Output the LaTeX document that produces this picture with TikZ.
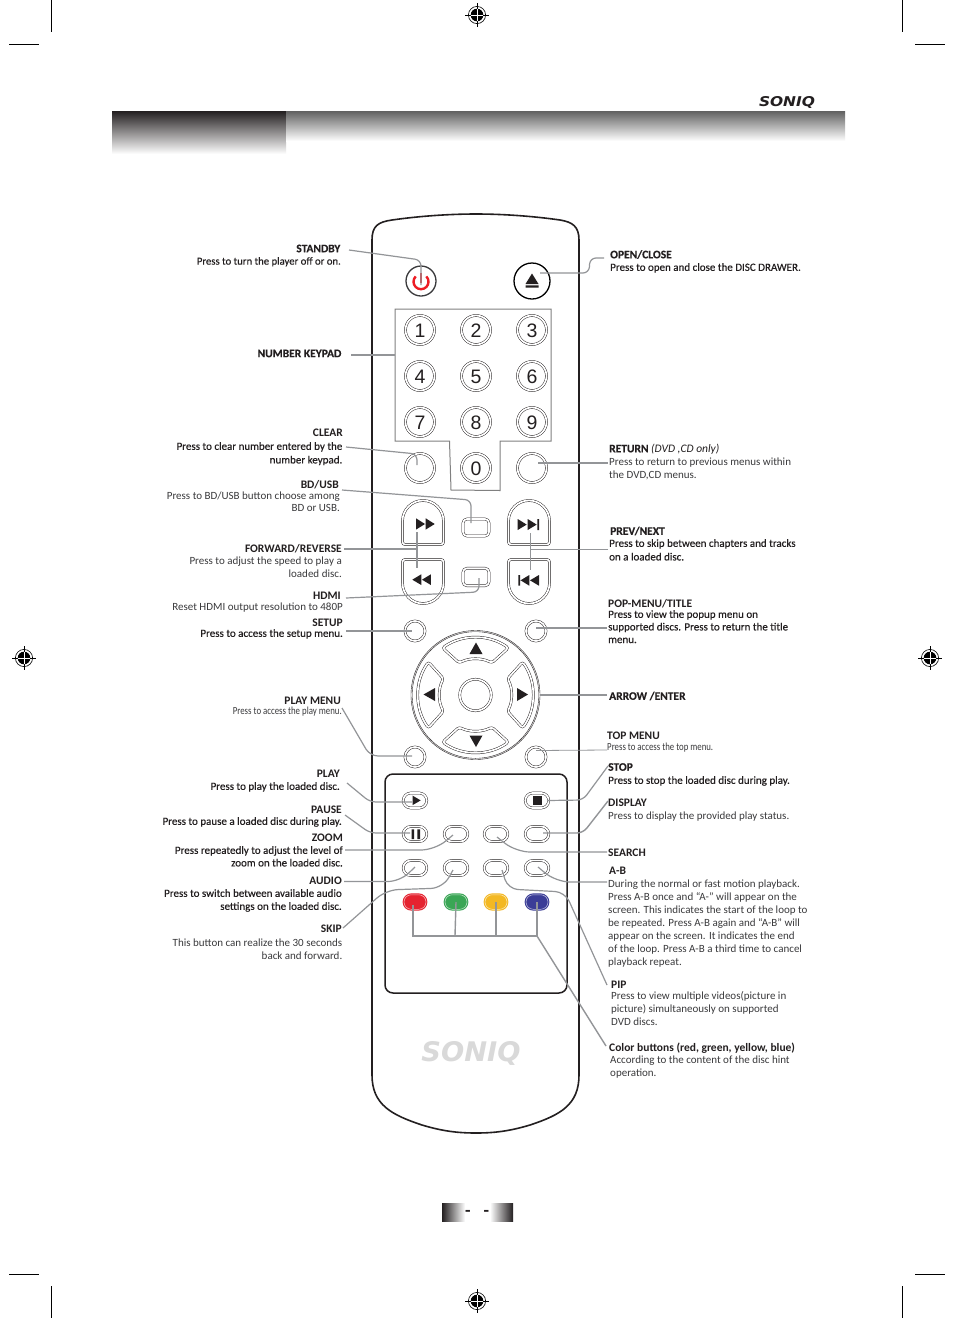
\documentclass[tikz,border=0pt]{standalone}
\usepackage{fontspec}
\setmainfont{Carlito}
\newfontfamily\digitfont{Liberation Sans}
\newfontfamily\logofont{DejaVu Sans}
\newfontfamily\fakebold[FakeBold=0.35]{Carlito}
\newfontfamily\headx[BoldFeatures={FakeBold=0.35}]{Carlito}
\usetikzlibrary{shapes.misc,shapes.geometric}
\definecolor{conn}{HTML}{939598}
\definecolor{ink}{HTML}{231F20}
\definecolor{soft}{HTML}{3A3A3C}
\definecolor{btnred}{HTML}{E52330}
\definecolor{btngreen}{HTML}{3AA655}
\definecolor{btnyellow}{HTML}{F3B823}
\definecolor{btnblue}{HTML}{3B3D97}
\definecolor{pwred}{HTML}{ED1C24}
\tikzset{
 wire/.style={draw=conn,line width=1.2pt,rounded corners=6pt},
 dbl/.style={draw=ink,line width=.45pt,double=white,double distance=1.7pt},
 numkey/.style={circle,dbl,minimum size=29pt,inner sep=0pt,font=\digitfont\fontsize{19.5}{20}\selectfont,text=ink},
 roundkey/.style={circle,dbl,minimum size=#1,inner sep=0pt},
 pill/.style={rounded rectangle,dbl,minimum width=23.5pt,minimum height=15pt,inner sep=0pt},
 colorpill/.style={rounded rectangle,draw=#1,fill=#1,line width=1.1pt,double=white!70!#1,double distance=.5pt,minimum width=22pt,minimum height=14.5pt,inner sep=0pt},
 lt/.style={inner sep=0pt,anchor=north east,align=right,font=\fontsize{11}{12.9}\selectfont,text=soft},
 rt/.style={inner sep=0pt,anchor=north west,align=left,font=\fontsize{11}{12.9}\selectfont,text=soft},
 ltb/.style={lt,font=\fakebold\fontsize{11}{13.6}\selectfont,text=ink},
 rtb/.style={rt,font=\fakebold\fontsize{11}{13.6}\selectfont,text=ink},
 lh/.style={inner sep=0pt,anchor=east,font=\bfseries\fontsize{11.5}{12}\selectfont,text=ink},
 rh/.style={inner sep=0pt,anchor=west,font=\bfseries\fontsize{11.5}{12}\selectfont,text=ink},
 lhx/.style={lh,font=\headx\bfseries\fontsize{11.5}{12}\selectfont},
 rhx/.style={rh,font=\headx\bfseries\fontsize{11.5}{12}\selectfont},
 crop/.style={draw=black,line width=.7pt},
 pagedash/.style={inner sep=0pt,text=ink,font=\bfseries\fontsize{18}{18}\selectfont},
}
\newcommand{\regmark}[2]{%
 \begin{scope}[shift={(#1,#2)}]
  \fill[black] (0,0) circle (6.3);
  \draw[black,line width=.6pt] (0,0) circle (8.6);
  \draw[black,line width=.7pt] (-12,0) -- (12,0) (0,-12) -- (0,12);
  \draw[white,line width=.8pt] (-6.3,0) -- (6.3,0) (0,-6.3) -- (0,6.3);
 \end{scope}}
\newcommand{\upkey}[1]{%
 \draw[dbl] (#1,542) -- (#1,521) arc[start angle=180,end angle=360,radius=20.5] -- ++(0,21) arc[start angle=0,end angle=90,radius=2.5] -- ++(-36,0) arc[start angle=90,end angle=180,radius=2.5] -- cycle;}
\newcommand{\downkey}[1]{%
 \draw[dbl] (#1,562) -- (#1,583) arc[start angle=180,end angle=0,radius=20.5] -- ++(0,-21) arc[start angle=0,end angle=-90,radius=2.5] -- ++(-36,0) arc[start angle=-90,end angle=-180,radius=2.5] -- cycle;}
\begin{document}
\begin{tikzpicture}[x=1pt,y=-1pt]
\useasboundingbox (0,0) rectangle (954,1318);
\fill[white] (0,0) rectangle (954,1318);
% crop marks
\draw[crop] (51,0)--(51,32) (902,0)--(902,32) (9,44)--(39,44) (915,44)--(945,44);
\draw[crop] (51,1286)--(51,1318) (902,1286)--(902,1318) (9,1274)--(39,1274) (915,1274)--(945,1274);
\regmark{477}{15}\regmark{477}{1301}\regmark{24}{658}\regmark{930}{658}
% header
\shade[top color=ink,bottom color=white] (112,111) rectangle (286,154);
\shade[top color=black!62,bottom color=white] (286,111) rectangle (845,141);
\node[inner sep=0pt,text=ink] (logoTop) at (787,102) {\resizebox{56pt}{10pt}{\logofont\bfseries\itshape SONIQ}};
% remote body
\draw[ink,line width=1.6pt,fill=white] (372,1075) -- (372,240)
  .. controls (372,226) and (378,222) .. (392,220)
  .. controls (420,216) and (450,214) .. (476,214)
  .. controls (502,214) and (532,216) .. (560,220)
  .. controls (572,222) and (579,226) .. (579,240)
  -- (579,1075)
  .. controls (579,1105) and (560,1115) .. (530,1125)
  .. controls (510,1131) and (495,1133) .. (476,1133)
  .. controls (457,1133) and (442,1131) .. (422,1125)
  .. controls (392,1115) and (372,1105) .. (372,1075);
% power and eject
\node[circle,draw=soft,line width=1.3pt,minimum size=30pt,inner sep=0pt] (pwr) at (421,281) {};
\draw[pwred,line width=2.4pt] (415.7,276.4) arc[start angle=225,end angle=-45,radius=7.5];
\draw[pwred,line width=2.4pt] (421,273)--(421,283);
\node[circle,draw=black,line width=1.3pt,minimum size=36pt,inner sep=0pt] (eject) at (532,281) {};
\fill[ink] (532,273.5)--(538.5,284)--(525.5,284)--cycle (525.5,285.3) rectangle (538.5,287.6);
% keypad outline
\draw[draw=black!50,line width=1pt] (395,309)--(551,309)--(551,441)--(500,441)--(500,490.5)--(451,490)--(449.5,441)--(395,441)--cycle;
\coordinate (padW) at (395,355);
% digits
\begin{scope}[every node/.append style={text depth=0pt}]
\node[numkey] (k1) at (420,330) {\raisebox{-1pt}{1}};
\node[numkey] (k2) at (476,330) {\raisebox{-1pt}{2}};
\node[numkey] (k3) at (532,330) {\raisebox{-1pt}{3}};
\node[numkey] (k4) at (420,376) {\raisebox{-1pt}{4}};
\node[numkey] (k5) at (476,376) {\raisebox{-1pt}{5}};
\node[numkey] (k6) at (532,376) {\raisebox{-1pt}{6}};
\node[numkey] (k7) at (420,422) {\raisebox{-1pt}{7}};
\node[numkey] (k8) at (476,422) {\raisebox{-1pt}{8}};
\node[numkey] (k9) at (532,422) {\raisebox{-1pt}{9}};
\node[numkey] (k0) at (476,468) {\raisebox{-1pt}{0}};
\end{scope}
\node[numkey] (clearK) at (420,468) {};
\node[numkey] (returnK) at (532,468) {};
% transport keys
\upkey{402.5}\upkey{508.5}\downkey{402.5}\downkey{508.5}
\fill[ink] (416,518.3)--(425,524)--(416,529.6)--cycle (425.7,518.3)--(434.7,524)--(425.7,529.6)--cycle;
\fill[ink] (421.3,574.3)--(412.3,579.7)--(421.3,585)--cycle (430.9,574.3)--(422,579.7)--(430.9,585)--cycle;
\fill[ink] (517.7,519)--(526.7,524.6)--(517.7,530)--cycle (527.7,519)--(536.7,524.6)--(527.7,530)--cycle (537.3,519) rectangle (539.2,530);
\fill[ink] (518.3,575) rectangle (520.1,585.7) (529.3,575)--(520.6,580.3)--(529.3,585.7)--cycle (539,575)--(530,580.3)--(539,585.7)--cycle;
\coordinate (fwdK) at (417,532);
\coordinate (revK) at (417,568);
\coordinate (nextK) at (530,533);
\coordinate (prevK) at (530,570);
% small rect keys
\node[rectangle,rounded corners=4pt,dbl,minimum width=26pt,minimum height=17pt,inner sep=0pt] (usbK) at (476,527.5) {};
\node[rectangle,rounded corners=4pt,dbl,minimum width=26pt,minimum height=17.5pt,inner sep=0pt] (hdmiK) at (476,577) {};
% small circles
\node[roundkey=20pt] (setupK) at (415,631) {};
\node[roundkey=20pt] (popK) at (536,631) {};
\node[roundkey=20pt] (playmK) at (415,757) {};
\node[roundkey=20pt] (topK) at (536,757) {};
% d-pad
\begin{scope}[shift={(475.5,695)}]
 \draw[ink,line width=.4pt] (0,0) circle (64.5) (0,0) circle (63.3);
 \foreach \a in {-90,0,90,180}{
  \draw[dbl,rotate=\a,rounded corners=2.5pt] (35:57.5) arc[start angle=35,end angle=-35,radius=57.5] -- (-27:36) arc[start angle=-27,end angle=27,radius=36] -- cycle;
 }
\end{scope}
\node[circle,dbl,minimum size=31.5pt,inner sep=0pt] (enterK) at (475.5,695) {};
\fill[ink] (476,642.5)--(482.5,654)--(469.5,654)--cycle;
\fill[ink] (476,747)--(482.5,735.5)--(469.5,735.5)--cycle;
\fill[ink] (423.5,694.5)--(435,688)--(435,701)--cycle;
\fill[ink] (528,694.5)--(517,688)--(517,701)--cycle;
% lower panel
\draw[ink,line width=1.5pt,rounded corners=8pt] (385,774) rectangle (567,993);
\node[pill] (playK) at (415,800.5) {};
\node[pill] (stopK) at (537,800.5) {};
\node[pill] (pauseK) at (415,834) {};
\node[pill] (zoomK) at (456,834) {};
\node[pill] (searchK) at (496,834) {};
\node[pill] (dispK) at (537,834) {};
\node[pill] (audioK) at (415,868) {};
\node[pill] (skipK) at (456,868) {};
\node[pill] (pipK) at (496,868) {};
\node[pill] (abK) at (537,868) {};
\node[colorpill=btnred] (redK) at (415,902) {};
\node[colorpill=btngreen] (greenK) at (456,902) {};
\node[colorpill=btnyellow] (yellowK) at (496,902) {};
\node[colorpill=btnblue] (blueK) at (537,902) {};
\fill[ink] (412.7,795.7)--(420.7,800.4)--(412.7,805)--cycle;
\fill[ink] (532.7,795.7) rectangle (542.3,805);
\fill[ink] (411.7,829.3) rectangle (414,839) (417.3,829.3) rectangle (420,839);
\node[inner sep=0pt,text=black!15] (logoBody) at (471,1053) {\resizebox{99pt}{20pt}{\logofont\bfseries\itshape SONIQ}};
% footer
\shade[left color=ink,right color=white] (442,1203) rectangle (465,1221);
\shade[left color=white,right color=ink] (490,1203) rectangle (513,1221);
\node[pagedash] (pgA) at (468,1213) {-};
\node[pagedash] (pgB) at (486.5,1213) {-};
% left labels
\node[lhx] (tStandby) at (340.5,248.5) {STANDBY};
\node[ltb,font=\fakebold\fontsize{10.7}{13.6}\selectfont] (bStandby) at (341,257) {Press to turn the player off or on.};
\node[lhx] (tPad) at (341.5,353.5) {NUMBER KEYPAD};
\node[lh] (tClear) at (343,433) {CLEAR};
\node[ltb] (bClear) at (342.5,442) {Press to clear number entered by the\\number keypad.};
\node[lh] (tUsb) at (339,485) {BD/USB};
\node[lt,font=\fontsize{11}{12}\selectfont] (bUsb) at (340,492) {Press to BD/USB button choose among\\BD or USB.};
\node[lh] (tFwd) at (342,549) {FORWARD/REVERSE};
\node[lt] (bFwd) at (342,557) {Press to adjust the speed to play a\\loaded disc.};
\node[lh] (tHdmi) at (341,595.5) {HDMI};
\node[lt] (bHdmi) at (343,603) {Reset HDMI output resolution to 480P};
\node[lh] (tSetup) at (343,622.5) {SETUP};
\node[ltb] (bSetup) at (343,629) {Press to access the setup menu.};
\node[lh] (tPlaym) at (341,701) {PLAY MENU};
\node[lt] (bPlaym) at (342,707) {\resizebox{109pt}{\height}{\fontsize{10.8}{12}\selectfont Press to access the play menu.}};
\node[lh] (tPlay) at (340,773.5) {PLAY};
\node[ltb] (bPlay) at (340,782) {Press to play the loaded disc.};
\node[lh] (tPause) at (342,810) {PAUSE};
\node[ltb] (bPause) at (342,817) {Press to pause a loaded disc during play.};
\node[lh] (tZoom) at (343,838) {ZOOM};
\node[ltb,font=\fakebold\fontsize{11}{12.6}\selectfont] (bZoom) at (343,846) {Press repeatedly to adjust the level of\\zoom on the loaded disc.};
\node[lh] (tAudio) at (342,881) {AUDIO};
\node[ltb,font=\fakebold\fontsize{11}{13}\selectfont] (bAudio) at (342,889) {Press to switch between available audio\\settings on the loaded disc.};
\node[lh] (tSkip) at (342,928.5) {SKIP};
\node[lt] (bSkip) at (342.5,939) {This button can realize the 30 seconds\\back and forward.};
% right labels
\node[rhx] (tOpen) at (610,254.5) {OPEN/CLOSE};
\node[rtb] (bOpen) at (610,263) {Press to open and close the DISC DRAWER.};
\node[rhx] (tRet) at (609,449) {RETURN {\fontspec{Carlito}\mdseries\itshape (DVD ,CD only)}};
\node[rt,font=\fontsize{11}{12.2}\selectfont] (bRet) at (609,458) {Press to return to previous menus within\\the DVD,CD menus.};
\node[rhx] (tPrev) at (610,531) {PREV/NEXT};
\node[rtb] (bPrev) at (609,539) {Press to skip between chapters and tracks\\on a loaded disc.};
\node[rh] (tPop) at (608,604) {POP-MENU/TITLE};
\node[rtb,font=\fakebold\fontsize{11}{12.6}\selectfont] (bPop) at (608,610) {Press to view the popup menu on\\supported discs. Press to return the title\\menu.};
\node[rhx] (tArrow) at (609,696) {ARROW /ENTER};
\node[rh] (tTop) at (607,736) {TOP MENU};
\node[rt] (bTop) at (607,742.5) {\resizebox{106pt}{\height}{\fontsize{10.8}{12}\selectfont Press to access the top menu.}};
\node[rhx] (tStop) at (608,767) {STOP};
\node[rtb] (bStop) at (608,776) {Press to stop the loaded disc during play.};
\node[rh] (tDisp) at (608,803) {DISPLAY};
\node[rt] (bDisp) at (608,812) {Press to display the provided play status.};
\node[rh] (tSearch) at (608,853) {SEARCH};
\node[rh] (tAb) at (609,871) {A-B};
\node[rt] (bAb) at (608,880) {During the normal or fast motion playback.\\Press A-B once and “A-” will appear on the\\screen. This indicates the start of the loop to\\be repeated. Press A-B again and “A-B” will\\appear on the screen. It indicates the end\\of the loop. Press A-B a third time to cancel\\playback repeat.};
\node[rh] (tPip) at (611,985) {PIP};
\node[rt] (bPip) at (611,991) {Press to view multiple videos(picture in\\picture) simultaneously on supported\\DVD discs.};
\node[rh] (tColor) at (609,1048) {Color buttons (red, green, yellow, blue)};
\node[rt] (bColor) at (610,1056) {According to the content of the disc hint\\operation.};
% connector ends beside labels
\coordinate (eStandby) at (349,250);
\coordinate (ePad) at (351,355);
\coordinate (eClear) at (346,447);
\coordinate (eUsb) at (342,490);
\coordinate (eFwd) at (344,549);
\coordinate (eHdmi) at (346,598);
\coordinate (eSetup) at (346,631);
\coordinate (ePlaym) at (342,708);
\coordinate (ePlay) at (347,783);
\coordinate (ePause) at (345,815);
\coordinate (eZoom) at (345,850);
\coordinate (eAudio) at (344,881.5);
\coordinate (eSkip) at (343,928);
\coordinate (eOpen) at (604,258);
\coordinate (eRet) at (608,463);
\coordinate (ePrev) at (608,549);
\coordinate (ePop) at (607,628);
\coordinate (eArrow) at (607,695);
\coordinate (eTop) at (607,750);
\coordinate (eStop) at (608,766);
\coordinate (eDisp) at (608,801);
\coordinate (eSearch) at (607,852);
\coordinate (eAb) at (607,882);
\coordinate (ePip) at (607,985);
\coordinate (eColor) at (606,1046);
\coordinate (busJ) at (537,936);
% connectors
\draw[wire] (eStandby) -- (421,260) -- ([yshift=-4pt]pwr.center);
\draw[wire] (eOpen) -- (590,258) -- (589,273) -- ([xshift=8pt,yshift=8pt]eject.center);
\draw[wire] (ePad) -- (padW);
\draw[wire] (eClear) -- (417,454) -- (417,465);
\draw[wire] (eUsb) -- (471,500) -- (471,523);
\draw[wire,line width=1.4pt] (eFwd) -- (417,549);
\draw[wire,line width=1.4pt] (fwdK) -- (revK);
\draw[wire] (eHdmi) -- (479,592) -- (479,578);
\draw[wire] (eSetup) -- (412,631);
\draw[wire] (returnK.center) ++(6,-5) -- (eRet);
\draw[wire,line width=.8pt] (ePrev) -- (530,549);
\draw[wire,line width=.8pt] (nextK) -- (prevK);
\draw[wire] (ePop) -- (536,628);
\draw[wire] (eArrow) -- (540,695);
\draw[wire,rounded corners=8pt] (ePlaym) -- (370,756) -- (412,756);
\draw[wire,line width=.8pt] (eTop) -- (536,750.5);
\draw[wire] (ePlay) -- (370,802) -- (412,802);
\draw[wire] (ePause) -- (370,833) -- (410,833);
\draw[wire,rounded corners=14pt] (eZoom) -- (435,850) -- (453,835);
\draw[wire,rounded corners=12pt] (eAudio) -- (400,881.5) -- (415,867);
\draw[wire,rounded corners=12pt] (eSkip) -- (386,890) -- (443,888) -- (453,870);
\draw[wire] (stopK.center) ++(10,0) -- (583,800) -- (eStop);
\draw[wire,line width=1.4pt] (dispK.center) ++(6,-1) -- (583,833) -- (eDisp);
\draw[wire,rounded corners=14pt] (497,837) -- (516,852) -- (eSearch);
\draw[wire,rounded corners=14pt] (538,867) -- (556,882) -- (eAb);
\draw[wire,rounded corners=10pt] (502,870) -- (508,889) -- (565,892) -- (ePip);
\draw[wire,rounded corners=0pt,line width=1.4pt] (redK.center) ++(-2,3) -- (413,936) -- (busJ) -- (blueK.center);
\draw[wire,line width=1.4pt] (455,936) -- (greenK.center);
\draw[wire,line width=1.4pt] (496,936) -- (yellowK.center);
\draw[wire,rounded corners=0pt,line width=1.4pt] (busJ) -- (eColor);
\end{tikzpicture}
\end{document}
